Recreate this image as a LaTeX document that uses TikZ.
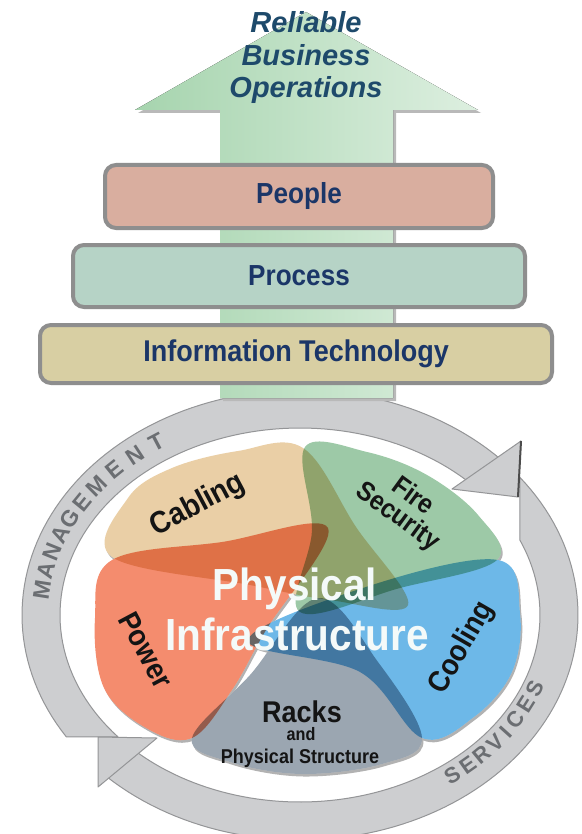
\documentclass[tikz,border=0pt]{standalone}
\usepackage{fontspec}
\setmainfont{Liberation Sans}
\usepackage{graphicx}
\newcommand\nar[1]{\scalebox{0.9}[1]{#1}}
\newcommand\fs[1]{\fontsize{#1}{#1}\selectfont}
\definecolor{navy}{HTML}{1B3668}
\definecolor{tealtxt}{HTML}{1E4A6B}
\definecolor{ringc}{HTML}{CDCED0}
\definecolor{ringedge}{HTML}{949597}
\definecolor{ringtxt}{HTML}{6B6E72}
\definecolor{peoplec}{HTML}{D9AE9F}
\definecolor{processc}{HTML}{B6D3C6}
\definecolor{itc}{HTML}{D8CFA3}
\definecolor{boxedge}{HTML}{8E8E8E}
\definecolor{powerc}{HTML}{F48C6E}
\definecolor{cablingc}{HTML}{EACFA6}
\definecolor{firec}{HTML}{9DC9A7}
\definecolor{coolingc}{HTML}{6DB8E8}
\definecolor{racksc}{HTML}{9BA6B1}
\definecolor{greenL}{HTML}{A6D4AE}
\definecolor{greenR}{HTML}{DDEFE0}
\definecolor{physc}{HTML}{F4FAF9}
\newcommand\petals[5]{%
  \path[#1] plot[smooth cycle,tension=.6] coordinates {(112,560) (95,618) (104,688) (146,728) (192,738) (232,690) (266,630) (328,528) (222,542)};
  \path[#2] plot[smooth cycle,tension=.6] coordinates {(112,557) (128,498) (172,468) (238,451) (303,448) (356,527) (408,605) (330,600) (250,585)};
  \path[#3] plot[smooth cycle,tension=.6] coordinates {(305,447) (367,452) (427,475) (478,515) (497,560) (400,588) (300,612) (312,530)};
  \path[#4] plot[smooth cycle,tension=.6] coordinates {(498,560) (520,613) (512,672) (474,717) (422,738) (360,672) (248,640) (372,585)};
  \path[#5] plot[smooth cycle,tension=.6] coordinates {(422,738) (382,764) (302,774) (230,762) (192,738) (250,675) (318,598) (378,662)};
}
\begin{document}
\begin{tikzpicture}[x=1pt,y=-1pt,
  boxst/.style={draw=boxedge, line width=4pt, rounded corners=11pt, text=navy, font=\bfseries\fs{29}, inner sep=0pt},
  lbl/.style={font=\bfseries\fs{#1}, text=black!92, inner sep=0pt},
  ringlet/.style={font=\bfseries\fs{#1}, text=ringtxt, inner sep=0pt},
  shadowp/.style={fill=gray!60, shift={(1.5,2.5)}},
  whitep/.style={fill=white},
  pcol/.style={fill=#1, blend mode=multiply},
  bandst/.style={fill=ringc, draw=ringedge, line width=1pt, line join=round},
]
\useasboundingbox (0,0) rectangle (581,834);
\fill[white] (0,0) rectangle (581,834);

% ---- ring arrows
\path[bandst] plot[domain=212.8:42, samples=90] ({300+278*cos(\x)},{615-225*sin(\x)})
   -- plot[domain=42:220.7, samples=90] ({300+240*cos(\x)},{615-187*sin(\x)}) -- cycle;
\path[bandst] plot[domain=37.7:-134, samples=90] ({300+278*cos(\x)},{615-225*sin(\x)})
   -- plot[domain=-134:23.6, samples=90] ({300+240*cos(\x)},{615-187*sin(\x)}) -- cycle;
\path[bandst] (521,441) -- (518,497) -- (452,489) -- cycle;
\draw[line width=2pt, gray!60!black] (521,441) -- (518,497);
\path[bandst] (98,737) -- (157,738) -- (98,787) -- cycle;

\foreach \t/\l [count=\i] in {173/M,167.5/A,162.2/N,157.2/A,152.2/G,147/E,141.5/M,135.5/E,129.5/N,123.5/T}{
  \pgfmathsetmacro\rot{atan2(-206*cos(\t),259*sin(\t))}
  \node[ringlet=23, rotate=\rot] (mg\i) at ({300+260*cos(\t)},{615-207*sin(\t)}) {\l};
}
\foreach \t/\l [count=\i] in {-53/S,-48.5/E,-44/R,-39.5/V,-35.6/I,-31.5/C,-26.5/E,-21.5/S}{
  \pgfmathsetmacro\rot{atan2(206*cos(\t),-259*sin(\t))}
  \node[ringlet=22, rotate=\rot] (sv\i) at ({300+253*cos(\t)},{615-201*sin(\t)}) {\l};
}

% ---- petals
\petals{shadowp}{shadowp}{shadowp}{shadowp}{shadowp}
\petals{whitep}{whitep}{whitep}{whitep}{whitep}
\petals{pcol=powerc}{pcol=cablingc}{pcol=firec}{pcol=coolingc}{pcol=racksc}

\node[lbl=31, rotate=28] (cab) at (198,505) {\nar{Cabling}};
\node[lbl=27, rotate=-36, align=center] (firesec) at (405,507) {\nar{Fire}\\[-2pt]\nar{Security}};
\node[lbl=30, rotate=60] (cool) at (462,648) {\nar{Cooling}};
\node[lbl=30, rotate=-62] (pow) at (146,650) {\nar{Power}};
\node[lbl=30, anchor=base] (racks) at (302,722) {\nar{Racks}};
\node[lbl=18, anchor=base] (and) at (301,740) {\nar{and}};
\node[lbl=20, anchor=base] (pstruct) at (300,763) {\nar{Physical Structure}};

\node[anchor=base, font=\bfseries\fs{45}, text=physc, inner sep=0pt] (phys1) at (295,600) {\nar{Physical}};
\node[anchor=base, font=\bfseries\fs{45}, text=physc, inner sep=0pt] (phys2) at (297,650) {\nar{Infrastructure}};

% ---- green arrow
\fill[gray!55] (138,113) -- (309,15) -- (481,113) -- (396,113) -- (396,401) -- (223,401) -- (223,113) -- cycle;
\fill[left color=greenL, right color=greenR] (135,110) -- (306,12) -- (478,110) -- (393,110) -- (393,398) -- (220,398) -- (220,110) -- cycle;

\node[anchor=base, font=\bfseries\itshape\fs{29}, text=tealtxt, inner sep=0pt] (rel) at (306,33) {Reliable};
\node[anchor=base, font=\bfseries\itshape\fs{29}, text=tealtxt, inner sep=0pt] (bus) at (306,66) {Business};
\node[anchor=base, font=\bfseries\itshape\fs{29}, text=tealtxt, inner sep=0pt] (ops) at (306,98) {Operations};

% ---- boxes
\node[boxst, fill=peoplec, minimum width=388pt, minimum height=63pt] (people) at (299,196.5) {\nar{People}};
\node[boxst, fill=processc, minimum width=452pt, minimum height=62pt] (process) at (299,276) {\nar{Process}};
\node[boxst, fill=itc, minimum width=512pt, minimum height=58pt, font=\bfseries\fs{30}] (it) at (296,354) {\nar{Information Technology}};
\end{tikzpicture}
\end{document}
